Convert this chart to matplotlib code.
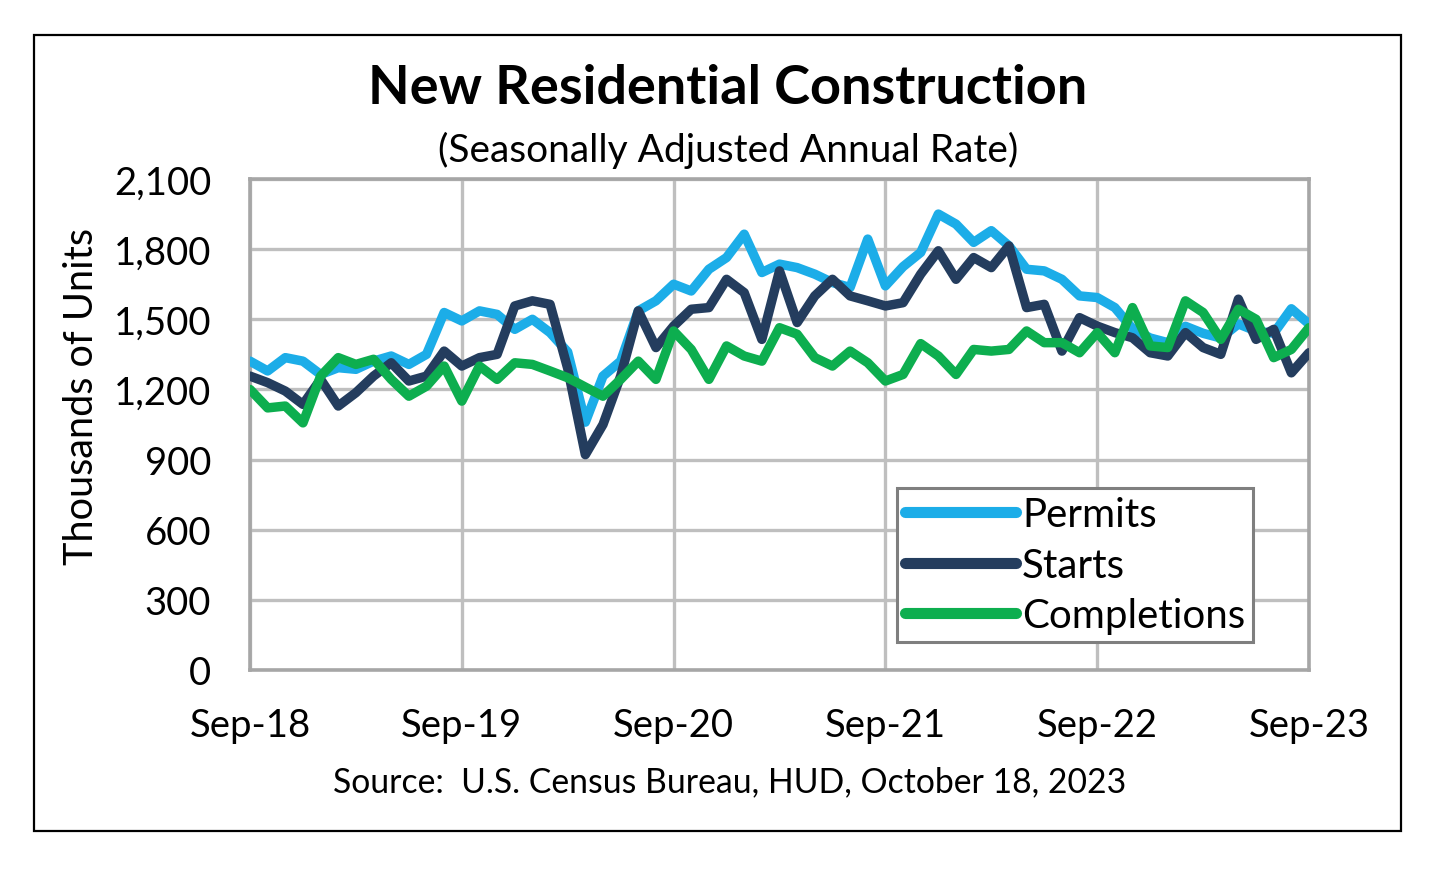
import matplotlib
matplotlib.use("Agg")
import matplotlib.pyplot as plt
from matplotlib.patches import Rectangle

plt.rcParams['font.family'] = ['Lato', 'DejaVu Sans']

# Monthly data, Sep-2018 .. Sep-2023 (thousands of units, SAAR)
permits = [1321, 1279, 1336, 1321, 1264, 1293, 1286, 1321, 1343, 1307, 1350, 1529,
           1493, 1536, 1521, 1457, 1500, 1443, 1360, 1060, 1257, 1321, 1536, 1579,
           1650, 1621, 1714, 1764, 1864, 1700, 1736, 1721, 1693, 1657, 1636, 1843,
           1643, 1725, 1786, 1950, 1907, 1829, 1879, 1814, 1714, 1707, 1671, 1600,
           1593, 1550, 1460, 1420, 1400, 1470, 1440, 1420, 1480, 1450, 1440, 1545, 1480]
starts = [1257, 1229, 1193, 1136, 1243, 1129, 1186, 1257, 1314, 1236, 1257, 1364,
          1300, 1336, 1350, 1557, 1579, 1564, 1290, 921, 1050, 1257, 1536, 1379,
          1471, 1543, 1550, 1671, 1614, 1414, 1707, 1486, 1600, 1671, 1600, 1579,
          1557, 1571, 1693, 1793, 1671, 1764, 1721, 1814, 1550, 1564, 1364, 1507,
          1471, 1443, 1421, 1357, 1343, 1443, 1379, 1350, 1586, 1414, 1457, 1271, 1357]
completions = [1200, 1121, 1129, 1057, 1257, 1336, 1307, 1329, 1243, 1171, 1214, 1300,
               1150, 1300, 1243, 1314, 1307, 1279, 1250, 1210, 1171, 1243, 1321, 1243,
               1450, 1371, 1243, 1386, 1343, 1321, 1464, 1436, 1336, 1300, 1364, 1314,
               1236, 1264, 1396, 1343, 1264, 1371, 1364, 1371, 1450, 1400, 1400, 1357,
               1443, 1357, 1550, 1386, 1379, 1579, 1529, 1414, 1543, 1500, 1336, 1371, 1464]
months = list(range(len(permits)))
tick_pos = [0, 12, 24, 36, 48, 60]
tick_labels = ["Sep-18", "Sep-19", "Sep-20", "Sep-21", "Sep-22", "Sep-23"]
y_ticks = [0, 300, 600, 900, 1200, 1500, 1800, 2100]

W, H = 1440, 878
fig = plt.figure(figsize=(W / 100, H / 100), dpi=100)
fig.patch.set_facecolor('white')

# outer frame
fig.add_artist(Rectangle((34 / W, 1 - 832 / H), (1401 - 34) / W, (832 - 36) / H,
                         transform=fig.transFigure, fill=False, edgecolor='black',
                         linewidth=1.6))

ax = fig.add_axes([250 / W, 1 - 671 / H, (1309 - 250) / W, (671 - 180) / H])

lw = 6.8
ax.plot(months, permits, color='#1CADE8', lw=lw, solid_joinstyle='round',
        solid_capstyle='round', label='Permits', zorder=3)
ax.plot(months, starts, color='#243D5E', lw=lw, solid_joinstyle='round',
        solid_capstyle='round', label='Starts', zorder=4)
ax.plot(months, completions, color='#0DAE4F', lw=lw, solid_joinstyle='round',
        solid_capstyle='round', label='Completions', zorder=5)

ax.set_xlim(0, 60)
ax.set_ylim(0, 2100)
ax.set_xticks(tick_pos)
ax.set_xticklabels(tick_labels)
ax.set_yticks(y_ticks)
ax.set_yticklabels([f"{v:,}" for v in y_ticks])
ax.tick_params(axis='both', length=0, labelsize=27.5, colors='black')
ax.tick_params(axis='x', pad=27)
ax.tick_params(axis='y', pad=28)
ax.grid(True, color='#BFBFBF', linewidth=2.4, zorder=0)
ax.set_axisbelow(True)
for s in ax.spines.values():
    s.set_color('#A6A6A6')
    s.set_linewidth(2.6)

ax.set_ylabel("Thousands of Units", fontsize=28.5, labelpad=10, y=0.56)

leg = ax.legend(loc='lower left', bbox_to_anchor=(0.611, 0.057), borderaxespad=0,
                fontsize=29, handlelength=2.75, handletextpad=0.15, labelspacing=0.33,
                borderpad=0.2, fancybox=False, framealpha=1, edgecolor='#7F7F7F')
leg.get_frame().set_linewidth(2.2)
for h in leg.get_lines():
    h.set_linewidth(8)
    h.set_solid_capstyle('round')

fig.text(728 / W, 1 - 88 / H, "New Residential Construction", ha='center', va='center',
         fontsize=39, fontweight='bold')
fig.text(728 / W, 1 - 150 / H, "(Seasonally Adjusted Annual Rate)", ha='center',
         va='center', fontsize=28)
fig.text(730 / W, 1 - 782 / H, "Source:  U.S. Census Bureau, HUD, October 18, 2023",
         ha='center', va='center', fontsize=24.3)

fig.savefig("out.png", dpi=100, facecolor='white')
